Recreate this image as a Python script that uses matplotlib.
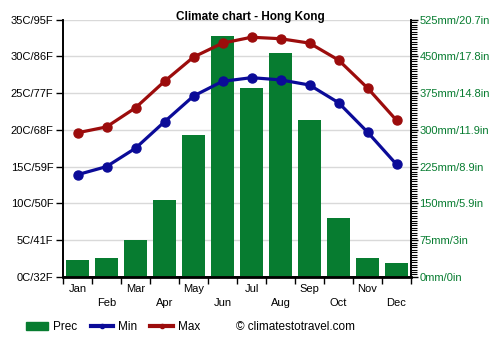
import numpy as np
import matplotlib.pyplot as plt
from matplotlib.patches import Patch
from matplotlib.lines import Line2D

months = ['Jan', 'Feb', 'Mar', 'Apr', 'May', 'Jun', 'Jul', 'Aug', 'Sep', 'Oct', 'Nov', 'Dec']
prec = [35, 39, 75, 156, 290, 492, 386, 456, 320, 120, 39, 29]
t_min = [13.9, 15.0, 17.5, 21.1, 24.6, 26.6, 27.1, 26.8, 26.1, 23.7, 19.7, 15.3]
t_max = [19.6, 20.4, 23.0, 26.6, 29.9, 31.8, 32.6, 32.4, 31.8, 29.5, 25.7, 21.3]

left_labels = ['0C/32F', '5C/41F', '10C/50F', '15C/59F', '20C/68F', '25C/77F', '30C/86F', '35C/95F']
right_labels = ['0mm/0in', '75mm/3in', '150mm/5.9in', '225mm/8.9in', '300mm/11.9in',
                '375mm/14.8in', '450mm/17.8in', '525mm/20.7in']

green = '#077c30'
blue = '#0b0b98'
red = '#9c0c0c'

plt.rcParams['font.family'] = ['Liberation Sans', 'DejaVu Sans']

fig = plt.figure(figsize=(5, 3.5), dpi=100)
ax = fig.add_axes([0.126, 0.209, 0.696, 0.735])
ax2 = ax.twinx()
ax.set_zorder(2)
ax2.set_zorder(1)
ax.patch.set_visible(False)

x = np.arange(12)

# precipitation bars on the lower axis, grid behind them
ax2.bar(x, prec, width=0.8, color=green, zorder=3)
ax2.set_ylim(0, 525)
ax2.set_yticks(np.arange(0, 526, 75))
ax2.set_yticklabels(right_labels, color=green, fontsize=8)
ax2.set_yticks(np.arange(0, 526, 5), minor=True)
ax2.tick_params(axis='y', which='major', length=5, width=1, pad=1)
ax2.tick_params(axis='y', which='minor', length=4, width=0.8)
ax2.grid(True, axis='y', color='#d9d9d9', linewidth=1, zorder=0)
ax2.set_xticks(np.arange(-0.5, 12, 1), minor=True)
ax2.grid(True, axis='x', which='minor', color='#d9d9d9', linewidth=1, zorder=0)

# temperature lines on top
ax.plot(x, t_min, color=blue, linewidth=2.3, marker='o', markersize=6.5, zorder=5)
ax.plot(x, t_max, color=red, linewidth=2.3, marker='o', markersize=6.5, zorder=5)
ax.set_ylim(0, 35)
ax.set_xlim(-0.5, 11.5)
ax.set_yticks(np.arange(0, 36, 5))
ax.set_yticklabels(left_labels, fontsize=8)
ax.tick_params(axis='y', length=5, width=1, pad=2)

labels = [m if i % 2 == 0 else '\n' + m for i, m in enumerate(months)]
ax.set_xticks(x)
ax.set_xticklabels(labels, fontsize=8, linespacing=1.55)
ax.set_xticks(np.arange(-0.5, 12, 1), minor=True)
ax.tick_params(axis='x', which='major', length=0, pad=5)
ax.tick_params(axis='x', which='minor', length=5, width=1)

for a in (ax, ax2):
    a.spines['top'].set_visible(False)
    for s in ('left', 'right', 'bottom'):
        a.spines[s].set_linewidth(1.2)
ax.spines['bottom'].set_linewidth(2)

fig.text(0.5, 0.951, 'Climate chart - Hong Kong', fontsize=8.5, fontweight='bold',
         ha='center', va='center')

handles = [Patch(color=green),
           Line2D([], [], color=blue, linewidth=3, marker='o', markersize=3),
           Line2D([], [], color=red, linewidth=3, marker='o', markersize=3)]
fig.legend(handles, ['Prec', 'Min', 'Max'], loc='center left', bbox_to_anchor=(0.042, 0.066),
           ncol=3, frameon=False, fontsize=8.5, handlelength=1.9, handletextpad=0.45,
           columnspacing=1.1, borderaxespad=0)
fig.text(0.472, 0.066, '© climatestotravel.com', fontsize=8.5, va='center')

fig.savefig('out.png', dpi=100)
